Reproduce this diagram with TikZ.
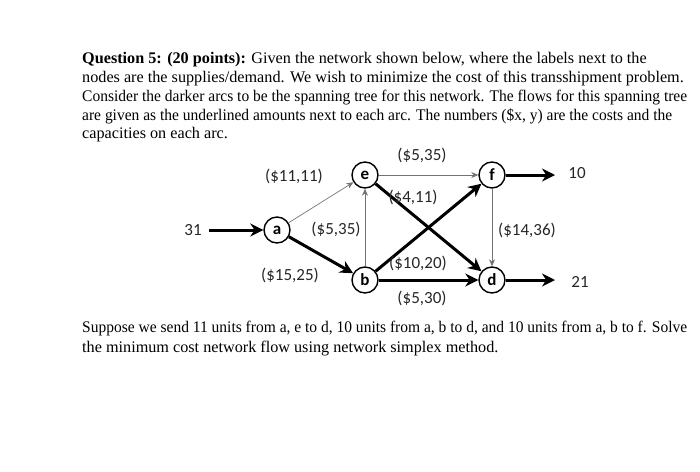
\documentclass[tikz,border=0pt]{standalone}
\usepackage{graphicx}
\usepackage{fontspec}
\setmainfont{Liberation Serif}
\newfontfamily\lab{Carlito}
\usetikzlibrary{arrows.meta}
\begin{document}
\begin{tikzpicture}[x=1pt,y=-1pt,
  txt/.style={anchor=base west,inner sep=0pt,font=\fontsize{16.2}{19}\selectfont},
  nd/.style={circle,draw,line width=1.4pt,fill=white,minimum size=26pt,inner sep=0pt,font=\lab\bfseries\fontsize{17}{18}\selectfont},
  lb/.style={font=\lab\fontsize{17}{18}\selectfont,text=black!85,inner sep=1pt},
  thin/.style={draw=black!55,line width=0.7pt,-{Stealth[length=7pt,width=6pt]}},
  thick/.style={line width=3pt,-{Stealth[length=13pt,width=13pt]}}]
\useasboundingbox (0,0) rectangle (700,471);
\node[txt] (l1) at (82,63) {\textbf{Question 5: (20 points):} Given the network shown below, where the labels next to the};
\node[txt] (l2) at (82,82) {nodes are the supplies/demand. We wish to minimize the cost of this transshipment problem.};
\node[txt] (l3) at (82,101) {\resizebox{605pt}{\height}{Consider the darker arcs to be the spanning tree for this network. The flows for this spanning tree}};
\node[txt] (l4) at (82,120) {\resizebox{590pt}{\height}{are given as the underlined amounts next to each arc. The numbers (\$x, y) are the costs and the}};
\node[txt] (l5) at (82,138) {capacities on each arc.};
\node[txt] (l6) at (82,332) {\resizebox{605pt}{\height}{Suppose we send 11 units from a, e to d, 10 units from a, b to d, and 10 units from a, b to f. Solve}};
\node[txt] (l7) at (82,352) {the minimum cost network flow using network simplex method.};
\coordinate (in) at (209,230);
\coordinate (of) at (555,175);
\coordinate (od) at (555,280);
\node[nd] (a) at (277,230) {a};
\node[nd] (e) at (365,175) {e};
\node[nd] (f) at (492,175) {f};
\node[nd] (b) at (365,280) {b};
\node[nd] (d) at (492,280) {d};
\draw[thin] (a) -- (e);
\draw[thin] (b) -- (e);
\draw[thin] (e) -- (f);
\draw[thin] (f) -- (d);
\draw[thick] (in) -- (a);
\draw[thick] (a) -- (b);
\draw[thick] (b) -- (d);
\draw[thick] (b) -- (f);
\draw[thick] (e) -- (d);
\draw[thick] (f) -- (of);
\draw[thick] (d) -- (od);
\node[lb] at (193,230) {31};
\node[lb] at (577,173) {10};
\node[lb] at (580,282) {21};
\node[lb] at (294,176) {(\$11,11)};
\node[lb] at (422,155) {(\$5,35)};
\node[lb] at (413,197) {(\$4,11)};
\node[lb] at (336,229) {(\$5,35)};
\node[lb] at (527,230) {(\$14,36)};
\node[lb] at (290,275) {(\$15,25)};
\node[lb] at (418,263) {(\$10,20)};
\node[lb] at (422,298) {(\$5,30)};
\end{tikzpicture}
\end{document}
